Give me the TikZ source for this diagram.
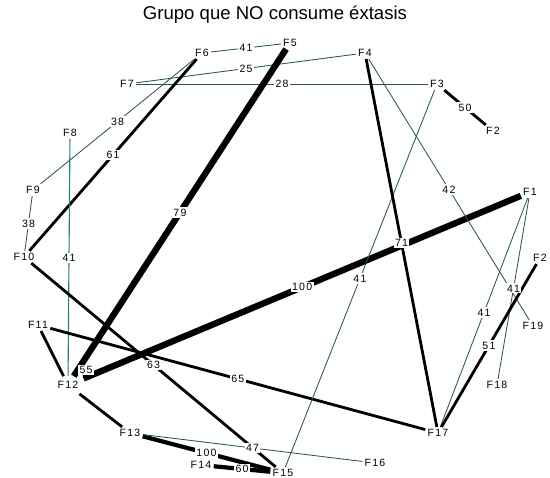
\documentclass[tikz,border=0pt]{standalone}
\usepackage{fontspec}
\setmainfont{Liberation Sans}
\newfontfamily\lblfont[LetterSpace=12]{Liberation Sans}
\definecolor{tealline}{RGB}{40,85,85}
\definecolor{tealfive}{RGB}{40,125,125}
% from/to/value/weight
\newcommand\edgelist{F6/F5/41/wthin, F7/F4/25/wthin, F7/F3/28/wthin, F3/F2a/50/wmid,
  F6/F9/38/wthin, F9/F10/38/wthin, F6/F10/61/wmid, F5/F12/79/wheavy,
  F8/F12/41/wteal, F10/F15/63/wmid, F11/F17/65/wmid, F12/F1/100/wheavy,
  F13/F15/100/wthick, F13/F16/47/wthin, F14/F15/60/wthick, F3/F15/41/wthin,
  F4/F17/71/wmid, F4/F19/42/wthin, F1/F17/41/wthin, F1/F18/41/wthin, F2b/F17/51/wmid}
\begin{document}
\begin{tikzpicture}[x=0.25mm,y=-0.25mm,
  fnode/.style={font=\lblfont\fontsize{7.5}{8}\selectfont,inner sep=1.5pt},
  lbl/.style={fnode,inner sep=1pt,fill=white},
  wthin/.style={draw=tealline,line width=0.6pt},
  wteal/.style={draw=tealfive,line width=0.8pt},
  wmid/.style={line width=2pt},
  wthick/.style={line width=3pt},
  wheavy/.style={line width=4.5pt}]
\useasboundingbox (0,0) rectangle (550,478);
\node (title) at (275,15) {\fontsize{13.2}{15}\selectfont Grupo que NO consume éxtasis};
% actors
\node[fnode] (F5) at (290,43) {F5};
\node[fnode] (F6) at (202,53) {F6};
\node[fnode] (F4) at (365,53) {F4};
\node[fnode] (F7) at (127,84) {F7};
\node[fnode] (F3) at (437,84) {F3};
\node[fnode] (F2a) at (493,131) {F2};
\node[fnode] (F8) at (70,133) {F8};
\node[fnode] (F9) at (33,190) {F9};
\node[fnode] (F10) at (24,257) {F10};
\node[fnode] (F1) at (530,192) {F1};
\node[fnode] (F2b) at (540,258) {F2};
\node[fnode] (F19) at (533,326) {F19};
\node[fnode] (F18) at (497,385) {F18};
\node[fnode] (F17) at (438,433) {F17};
\node[fnode] (F16) at (375,463) {F16};
\node[fnode] (F15) at (283,473) {F15};
\node[fnode] (F14) at (201,465) {F14};
\node[fnode] (F13) at (130,433) {F13};
\node[fnode,inner sep=3.5pt] (F12) at (68,385) {F12};
\node[fnode] (F11) at (38,325) {F11};
% ties
\draw[wmid] (F11) -- (F12);
\draw[wmid] (F12) -- (F13);
\foreach \a/\b/\w/\s in \edgelist
  \draw[\s] (\a) -- coordinate[midway] (m-\a-\b) (\b);
\foreach \a/\b/\w/\s in \edgelist
  \node[lbl] at (m-\a-\b) {\w};
\node[lbl] (v55) at (86,370) {55};
\end{tikzpicture}
\end{document}
